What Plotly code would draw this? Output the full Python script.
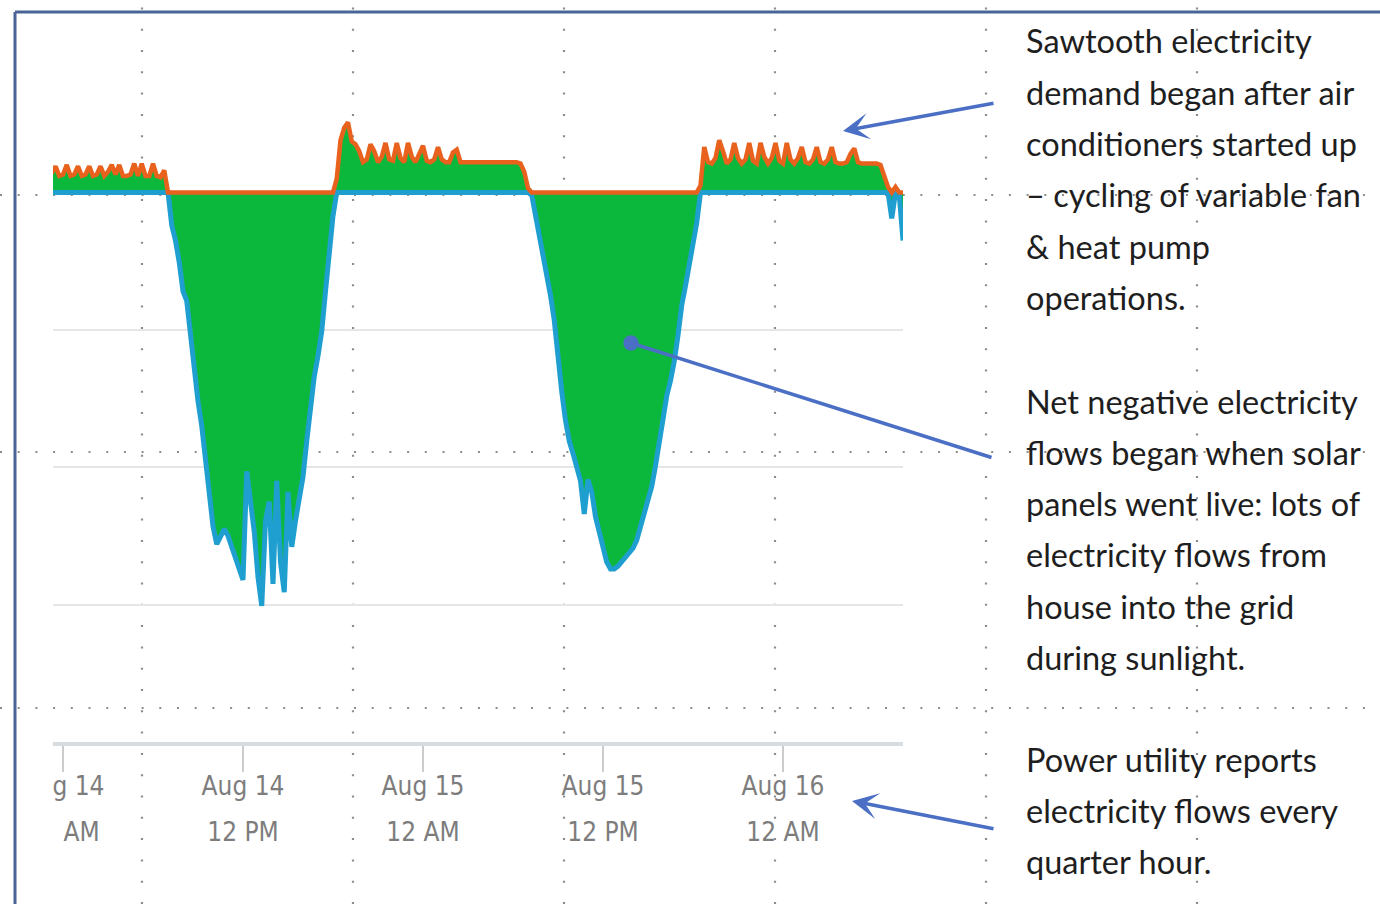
import numpy as np
import pandas as pd
import plotly.graph_objects as go

# ---------------- data (net grid flow, kW, 15-minute readings) ----------------
early_aug14 = [0.14, 0.19, 0.12, 0.13, 0.20, 0.12, 0.13, 0.19, 0.12, 0.13, 0.19,
               0.12, 0.13, 0.19, 0.12, 0.15, 0.20, 0.13, 0.20, 0.12, 0.12, 0.13,
               0.21, 0.12, 0.21, 0.12, 0.12, 0.21, 0.12, 0.11, 0.16]
day_aug14 = [0.00, -0.24, -0.35, -0.51, -0.72, -0.79, -1.04, -1.34, -1.52, -1.70,
             -1.92, -2.21, -2.43, -2.56, -2.50, -2.45, -2.50, -2.58, -2.65, -2.74,
             -2.82, -2.03, -2.25, -2.47, -2.80, -3.01, -2.39, -2.25, -2.85, -2.10,
             -2.69, -2.91, -2.18, -2.58, -2.39, -2.21, -2.07, -1.81, -1.55, -1.34,
             -1.19, -1.01, -0.72, -0.46, -0.17]
evening_aug14 = [0.10, 0.38, 0.47, 0.51, 0.37, 0.35, 0.30, 0.22, 0.24, 0.35, 0.30,
                 0.22, 0.26, 0.36, 0.24, 0.23, 0.36, 0.25, 0.22, 0.36, 0.26, 0.22,
                 0.28, 0.34, 0.23, 0.22, 0.24, 0.33, 0.24, 0.22, 0.22, 0.29, 0.31,
                 0.22, 0.22, 0.22, 0.22, 0.22, 0.22, 0.22, 0.22, 0.22, 0.22, 0.22,
                 0.22, 0.22, 0.22, 0.22, 0.22, 0.21, 0.15, 0.03]
day_aug15 = [-0.02, -0.17, -0.31, -0.42, -0.58, -0.75, -0.93, -1.23, -1.45, -1.66,
             -1.81, -1.90, -1.99, -2.10, -2.34, -2.09, -2.18, -2.36, -2.47, -2.60,
             -2.69, -2.74, -2.74, -2.72, -2.69, -2.65, -2.63, -2.59, -2.53, -2.43,
             -2.36, -2.25, -2.14, -1.99, -1.81, -1.66, -1.48, -1.37, -1.23, -1.04,
             -0.82, -0.68, -0.53, -0.39, -0.22]
night_aug16 = [0.05, 0.33, 0.22, 0.21, 0.25, 0.38, 0.30, 0.21, 0.24, 0.36, 0.25,
               0.21, 0.24, 0.36, 0.23, 0.21, 0.36, 0.26, 0.21, 0.25, 0.36, 0.23,
               0.21, 0.36, 0.24, 0.21, 0.25, 0.33, 0.22, 0.21, 0.24, 0.33, 0.22,
               0.21, 0.24, 0.33, 0.22, 0.21, 0.21, 0.22, 0.28, 0.32, 0.22, 0.21,
               0.21, 0.21, 0.21, 0.21, 0.20, 0.12, 0.04, -0.19, 0.04, -0.02, -0.35]

first_reading = "2019-08-13 23:15"
x_range = ["2019-08-13 23:20", "2019-08-16 08:00"]

tick_times = ["2019-08-14 00:00", "2019-08-14 12:00", "2019-08-15 00:00",
              "2019-08-15 12:00", "2019-08-16 00:00"]
tick_dates = ["Aug 14", "Aug 14", "Aug 15", "Aug 15", "Aug 16"]
tick_hours = ["12 AM", "12 PM", "12 AM", "12 PM", "12 AM"]

note_sawtooth = ["Sawtooth electricity", "demand began after air",
                 "conditioners started up", "\u2013 cycling of variable fan",
                 "& heat pump", "operations."]
note_solar = ["Net negative electricity", "flows began when solar",
              "panels went live: lots of", "electricity flows from",
              "house into the grid", "during sunlight."]
note_utility = ["Power utility reports", "electricity flows every",
                "quarter hour."]

net = np.array(early_aug14 + day_aug14 + evening_aug14 + day_aug15 + night_aug16)
times = pd.date_range(first_reading, periods=len(net), freq="15min")

# ---------------- styling ----------------
W, H = 1380, 904
GREEN = "#0cb83c"
TEAL = "#1f9fd0"
ORANGE = "#e8621e"
ARROW = "#4a6fc4"
DOT = "#8c8c8c"


def px(x):
    return x / W


def py(y):
    return 1 - y / H


fig = go.Figure()
fig.add_trace(go.Scatter(x=times, y=net, mode="lines", line=dict(width=0, color=GREEN),
                         fill="tozeroy", fillcolor=GREEN, hoverinfo="skip", showlegend=False))
fig.add_trace(go.Scatter(x=times, y=np.minimum(net, 0), mode="lines", xaxis="x2",
                         line=dict(width=5, color=TEAL), showlegend=False))
fig.add_trace(go.Scatter(x=times, y=np.maximum(net, 0), mode="lines", xaxis="x3",
                         line=dict(width=4.5, color=ORANGE), showlegend=False))

tick_font = dict(family="DejaVu Sans Condensed, DejaVu Sans", size=26, color="#7d7d7d")
clear = "rgba(0,0,0,0)"

fig.update_layout(
    width=W, height=H,
    margin=dict(l=0, r=0, t=0, b=0),
    paper_bgcolor="white", plot_bgcolor=clear,
    showlegend=False,
    # axis line and tick marks
    xaxis=dict(domain=[px(53), px(903)], range=x_range, type="date",
               tickvals=tick_times, showticklabels=False,
               ticks="outside", ticklen=26, tickwidth=1.5, tickcolor="#cccccc",
               showline=True, linecolor="#d7dce1", linewidth=4,
               showgrid=False, zeroline=False, automargin=False),
    # first label row (date)
    xaxis2=dict(overlaying="x", matches="x", anchor="y", side="bottom", type="date",
                tickvals=tick_times, ticktext=tick_dates, tickfont=tick_font,
                ticks="outside", ticklen=21, tickcolor=clear,
                showline=False, showgrid=False, zeroline=False, automargin=False),
    # second label row (time of day)
    xaxis3=dict(overlaying="x", matches="x", anchor="y", side="bottom", type="date",
                tickvals=tick_times, ticktext=tick_hours, tickfont=tick_font,
                ticks="outside", ticklen=67, tickcolor=clear,
                showline=False, showgrid=False, zeroline=False, automargin=False),
    yaxis=dict(domain=[py(742), py(55)], range=[-4, 1], tickvals=[-3, -2, -1],
               showticklabels=False, ticks="", gridcolor="#e6e6e6", gridwidth=2,
               zeroline=False, showline=False, automargin=False),
)

shapes = []
# slide guide dots (behind the chart)
for gx in [142, 353, 564, 775, 986, 1197]:
    shapes.append(dict(type="line", xref="paper", yref="paper", x0=px(gx), x1=px(gx),
                       y0=0, y1=1, layer="below",
                       line=dict(color=DOT, width=2.2, dash="2px,19.3px")))
for gy in [195, 452, 708]:
    shapes.append(dict(type="line", xref="paper", yref="paper", x0=0, x1=1,
                       y0=py(gy), y1=py(gy), layer="below",
                       line=dict(color=DOT, width=2.2, dash="2px,15.7px")))
# crop of the left tick labels (the chart picture is cut at its left edge)
shapes.append(dict(type="rect", xref="paper", yref="paper", x0=px(16.5), x1=px(53),
                   y0=py(808), y1=py(768), layer="above", line=dict(width=0),
                   fillcolor="white"))
shapes.append(dict(type="rect", xref="paper", yref="paper", x0=px(16.5), x1=px(59),
                   y0=py(875), y1=py(808), layer="above", line=dict(width=0),
                   fillcolor="white"))
# slide frame
shapes.append(dict(type="line", xref="paper", yref="paper", x0=px(15), x1=1,
                   y0=py(12), y1=py(12), layer="above", line=dict(color="#4a6496", width=3)))
shapes.append(dict(type="line", xref="paper", yref="paper", x0=px(15), x1=px(15),
                   y0=0, y1=py(12), layer="above", line=dict(color="#4a6496", width=3)))
fig.update_layout(shapes=shapes)

annotations = []
text_font = dict(family="Lato", size=32.5, color="#1e1e1e")
for block, y_first in [(note_sawtooth, 41), (note_solar, 401), (note_utility, 759)]:
    for k, line in enumerate(block):
        annotations.append(dict(text=line, xref="paper", yref="paper", x=px(1024),
                                y=py(y_first + 51.3 * k), xanchor="left", yanchor="middle",
                                showarrow=False, font=text_font))

for head, tail, style, size in [((843, 131), (995, 103), 3, 1.25),
                                ((631, 343), (993, 458), 6, 1.1),
                                ((852, 801), (995, 829), 3, 1.25)]:
    annotations.append(dict(text="", xref="paper", yref="paper", x=px(head[0]), y=py(head[1]),
                            ax=tail[0] - head[0], ay=tail[1] - head[1], showarrow=True,
                            arrowhead=style, arrowsize=size, arrowwidth=3.5,
                            arrowcolor=ARROW, standoff=0))
fig.update_layout(annotations=annotations)

fig.write_html("out.html", config={"displayModeBar": False},
               post_script="document.body.style.margin='0px';")
